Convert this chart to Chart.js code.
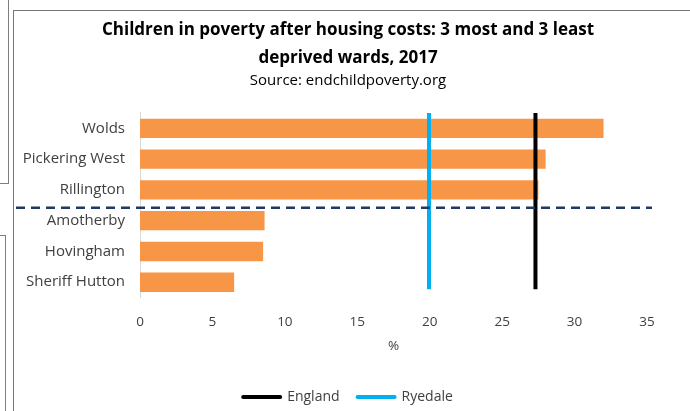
<!DOCTYPE html>
<html lang="en">
<head>
  <meta charset="UTF-8" />
  <title>Children in poverty after housing costs</title>
  <style>
    * { box-sizing: border-box; margin: 0; padding: 0; }
    body { width: 690px; height: 411px; background: #fff; position: relative; overflow: hidden; font-family: 'Open Sans', sans-serif; }
    .edge { position: absolute; background: #7f7f7f; }
    .box {
      position: absolute; left: 13px; top: 10px; width: 677px; height: 401px;
      border-left: 1px solid #767676; border-top: 1px solid #767676;
      background: #fff;
    }
    canvas { display: block; }
  </style>
</head>
<body>
  <div class="edge" style="left:8px;top:0;width:1px;height:184px"></div>
  <div class="edge" style="left:0;top:183px;width:9px;height:1px"></div>
  <div class="edge" style="left:5px;top:235px;width:1px;height:176px"></div>
  <div class="edge" style="left:0;top:235px;width:6px;height:1px"></div>
  <div class="box">
    <canvas id="povertyChart" width="676" height="400"></canvas>
  </div>

  <script src="https://cdn.jsdelivr.net/npm/chart.js"></script>
  <script>
const wards = ['Wolds', 'Pickering West', 'Rillington', 'Amotherby', 'Hovingham', 'Sheriff Hutton'];
const povertyPct = [32.0, 28.0, 27.5, 8.6, 8.5, 6.5];
const refNames = ['England', 'Ryedale'];
const refPct = [27.3, 19.95];
const xTicks = [0, 5, 10, 15, 20, 25, 30, 35];

const refColors = ['#000000', '#00b0f0'];
const FONT = 'Open Sans';

// England / Ryedale reference lines and the dashed divider between
// the 3 most and 3 least deprived wards
const overlays = {
  id: 'overlays',
  afterDatasetsDraw(chart) {
    const { ctx, chartArea, scales } = chart;
    const { x, y } = scales;
    ctx.save();
    refPct.forEach((v, i) => {
      const px = x.getPixelForValue(v);
      ctx.strokeStyle = refColors[i];
      ctx.lineWidth = 4;
      ctx.beginPath();
      ctx.moveTo(px, chartArea.top);
      ctx.lineTo(px, y.getPixelForValue(5.23));
      ctx.stroke();
    });
    const dy = y.getPixelForValue(2.58);
    ctx.strokeStyle = '#1f3864';
    ctx.lineWidth = 2.5;
    ctx.setLineDash([9, 6]);
    ctx.beginPath();
    ctx.moveTo(2, dy);
    ctx.lineTo(chartArea.right + 5, dy);
    ctx.stroke();
    ctx.restore();
  }
};

new Chart(document.getElementById('povertyChart'), {
  type: 'bar',
  data: {
    labels: wards,
    datasets: [{
      label: 'Wards',
      data: povertyPct,
      xAxisID: 'x',
      yAxisID: 'y',
      backgroundColor: '#f79646',
      barPercentage: 0.63,
      categoryPercentage: 1
    }]
  },
  options: {
    indexAxis: 'y',
    responsive: false,
    animation: false,
    layout: { padding: { left: 0, right: 8, top: 0, bottom: -3 } },
    plugins: {
      title: {
        display: true,
        text: ['Children in poverty after housing costs: 3 most and 3 least', 'deprived wards, 2017'],
        color: '#000',
        font: { family: FONT, size: 17, weight: 'bold', lineHeight: 1.647 },
        padding: { top: 5, bottom: 0 }
      },
      subtitle: {
        display: true,
        text: 'Source: endchildpoverty.org',
        color: '#000',
        font: { family: FONT, size: 15 },
        padding: { top: 0, bottom: 23 }
      },
      legend: {
        position: 'bottom',
        labels: {
          generateLabels: () => refNames.map((name, i) => ({
            text: name,
            fillStyle: refColors[i],
            strokeStyle: refColors[i],
            lineWidth: 4,
            lineCap: 'round',
            pointStyle: 'line',
            hidden: false,
            fontColor: '#404040',
            datasetIndex: 0
          })),
          usePointStyle: true,
          pointStyleWidth: 37,
          boxWidth: 37,
          boxHeight: 10,
          padding: 18,
          color: '#404040',
          font: { family: FONT, size: 14 }
        }
      },
      tooltip: { enabled: false }
    },
    scales: {
      x: {
        type: 'linear',
        min: 0,
        max: 35,
        afterBuildTicks: s => { s.ticks = xTicks.map(v => ({ value: v })); },
        grid: { display: false, drawTicks: false },
        border: { display: false },
        ticks: { color: '#404040', padding: 16, font: { family: FONT, size: 13.5 } },
        title: {
          display: true,
          text: '%',
          color: '#404040',
          font: { family: FONT, size: 13.5 },
          padding: { top: -8, bottom: 18 }
        }
      },
      y: {
        type: 'category',
        position: 'left',
        grid: { display: false, drawTicks: false },
        border: { display: true, color: '#d9d9d9', width: 1 },
        ticks: { color: '#404040', padding: 15, font: { family: FONT, size: 15 } },
        afterFit: s => { s.width = 126; }
      },
      // empty right-hand gutter so the plot stops short of the frame
      yGutter: {
        type: 'category',
        position: 'right',
        grid: { display: false, drawTicks: false },
        border: { display: false },
        ticks: { display: false },
        afterFit: s => { s.width = 35; }
      }
    }
  },
  plugins: [overlays]
});
  </script>
</body>
</html>
